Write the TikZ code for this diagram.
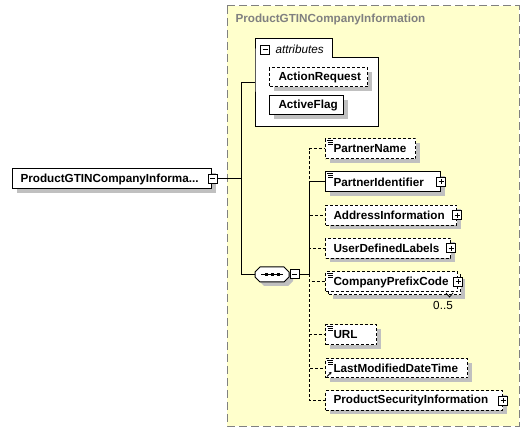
\documentclass[tikz,border=0pt]{standalone}
\usepackage{fontspec}
\setmainfont{Liberation Sans}
\usetikzlibrary{shadows,arrows.meta}
\definecolor{bgyel}{HTML}{FFFFCC}
\definecolor{brd}{HTML}{808080}
\definecolor{shd}{HTML}{C0C0C0}
\newcommand\sicon[1]{%
  \draw[line width=0.8pt] ([shift={(2,2)}]#1.north west) -- ++(6,0)
    ([shift={(3,4)}]#1.north west) -- ++(5,0)
    ([shift={(3,6)}]#1.north west) -- ++(5,0);}
\tikzset{
  x=1pt, y=-1pt,
  every path/.style={line width=1pt},
  myshadow/.style={drop shadow={shadow xshift=4pt, shadow yshift=-4pt, fill=shd, opacity=1}},
  elem/.style={draw, fill=white, minimum height=20, inner sep=0, anchor=west, myshadow},
  opt/.style={dash pattern=on 3pt off 2pt},
  txt/.style={anchor=west, inner sep=0, font=\fontsize{11.7}{13}\selectfont},
  lbl/.style={txt, font=\bfseries\fontsize{11.7}{13}\selectfont},
  minusbox/.style={draw, fill=white, minimum size=9, inner sep=0,
    path picture={\draw ([xshift=2pt]path picture bounding box.west) -- ([xshift=-2pt]path picture bounding box.east);}},
  plusbox/.style={draw, fill=white, minimum size=9, inner sep=0,
    path picture={\draw ([xshift=2pt]path picture bounding box.west) -- ([xshift=-2pt]path picture bounding box.east)
      ([yshift=-2pt]path picture bounding box.north) -- ([yshift=2pt]path picture bounding box.south);}},
}
\begin{document}
\begin{tikzpicture}
\useasboundingbox (0,0) rectangle (530,435);
% container
\draw[brd, fill=bgyel, dash pattern=on 8pt off 4pt] (227,6) rectangle (519,426);
\node[lbl, text=brd] (title) at (235,19) {ProductGTINCompanyInformation};
% attributes
\draw[fill=white] (255,58) -- (255,39) -- (332,39) -- (332,58) -- (378,58) -- (378,127) -- (255,127) -- cycle;
\node[minusbox] (attm) at (265,50) {};
\node[txt, font=\itshape\fontsize{11.7}{13}\selectfont] (attt) at (275,49) {attributes};
\node[elem, opt, minimum width=98, minimum height=19] (ar) at (269,77.5) {};
\node[lbl] (art) at ([xshift=9pt]ar.west) {ActionRequest};
\node[elem, minimum width=74, minimum height=19] (af) at (269,105.5) {};
\node[lbl] (aft) at ([xshift=9pt]af.west) {ActiveFlag};
\coordinate (attrin) at (255,83);
% main element
\node[elem, minimum width=199] (main) at (12,179) {};
\node[lbl] (maint) at ([xshift=8pt]main.west) {ProductGTINCompanyInforma...};
\node[minusbox] (mainm) at (212.5,179) {};
% sequence
\node[inner sep=0, minimum width=34, minimum height=15] (seq) at (272,274.5) {};
\fill[shd] (264,271) -- (288,271) -- (293,276) -- (293,281) -- (288,286) -- (264,286) -- (259,281) -- (259,276) -- cycle;
\draw[fill=white] (260,267) -- (284,267) -- (289,272) -- (289,277) -- (284,282) -- (260,282) -- (255,277) -- (255,272) -- cycle;
\draw (seq.center) ++(-11,0) -- ++(22,0);
\fill (seq.center) ++(-7.5,-1.5) rectangle ++(3,3);
\fill (seq.center) ++(-1.5,-1.5) rectangle ++(3,3);
\fill (seq.center) ++(4.5,-1.5) rectangle ++(3,3);
\node[minusbox] (seqm) at (294.5,274.5) {};
% children
\node[elem, opt, minimum width=90] (pn) at (325,149) {};
\node[lbl] (pnt) at ([xshift=8pt]pn.west) {PartnerName};
\sicon{pn}
\node[elem, minimum width=115] (pi) at (325,182) {};
\node[lbl] (pit) at ([xshift=8pt]pi.west) {PartnerIdentifier};
\sicon{pi}
\node[plusbox] (pip) at (pi.east) {};
\node[elem, opt, minimum width=131] (ai) at (325,215.5) {};
\node[lbl] (ait) at ([xshift=8pt]ai.west) {AddressInformation};
\node[plusbox] (aip) at (ai.east) {};
\node[elem, opt, minimum width=125] (ud) at (325,248.5) {};
\node[lbl] (udt) at ([xshift=8pt]ud.west) {UserDefinedLabels};
\node[plusbox] (udp) at (ud.east) {};
\node[elem, opt, minimum width=132] (cpb) at (328,285) {};
\node[draw, fill=white, opt, minimum height=20, minimum width=132, inner sep=0, anchor=west] (cp) at (325,282) {};
\node[lbl] (cpt) at ([xshift=8pt]cp.west) {CompanyPrefixCode};
\sicon{cp}
\node[plusbox] (cpp) at (cp.east) {};
\draw[line width=0.8pt] (446,293) -- (449.5,297) -- (453,293);
\node[txt, anchor=center] (occ) at (443,305) {0..5};
\node[elem, opt, minimum width=51] (url) at (325,335) {};
\node[lbl] (urlt) at ([xshift=8pt]url.west) {URL};
\sicon{url}
\node[elem, opt, minimum width=142, minimum height=19] (lm) at (325,368.5) {};
\node[lbl] (lmt) at ([xshift=8pt]lm.west) {LastModifiedDateTime};
\sicon{lm}
\draw[line width=0.8pt, -{Stealth[length=2.5pt,width=3pt]}] ([shift={(2,-2)}]lm.south west) -- ++(4.5,-4.5);
\node[elem, opt, minimum width=177, minimum height=19] (ps) at (325,400.5) {};
\node[lbl] (pst) at ([xshift=8pt]ps.west) {ProductSecurityInformation};
\node[plusbox] (psp) at (ps.east) {};
% connectors
\coordinate (j1) at (241,179);
\coordinate (ja) at (241,83);
\coordinate (jb) at (241,274.5);
\coordinate (cj) at (309,274.5);
\draw (mainm) -- (j1);
\draw (attrin) -- (ja) -- (jb) -- (seq.west);
\draw (seqm) -- (cj);
\draw[opt] (cj) |- (pn.west);
\draw[opt] (cj) |- (ai.west);
\draw[opt] (cj) |- (ud.west);
\draw[opt] (cj) |- (cp.west);
\draw[opt] (cj) |- (url.west);
\draw[opt] (cj) |- (lm.west);
\draw[opt] (cj) |- (ps.west);
\draw (cj) |- (pi.west);
\end{tikzpicture}
\end{document}
